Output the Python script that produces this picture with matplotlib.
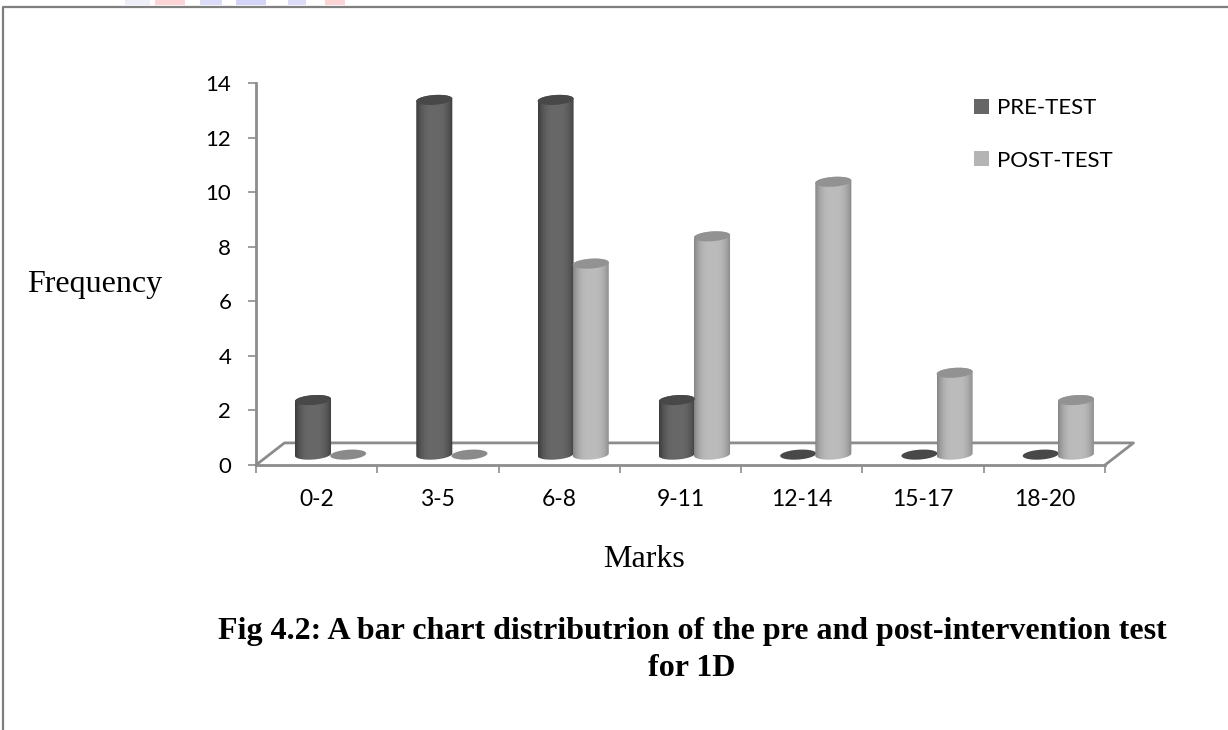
import matplotlib
matplotlib.use('Agg')
import matplotlib.pyplot as plt
import numpy as np
from matplotlib.patches import PathPatch, Rectangle
from matplotlib.path import Path

marks = ['0-2', '3-5', '6-8', '9-11', '12-14', '15-17', '18-20']
pre_test = [2, 13, 13, 2, 0, 0, 0]
post_test = [0, 0, 7, 8, 10, 3, 2]

W, H = 1228, 730
AXIS = '#8c8c8c'
BAR_W = 0.297
FLOOR_DX = 0.235
FLOOR_DY = 0.81
BASE = 0.38
CAP = 0.36
TILT = 0.3


def ellipse_points(x, y, start, end):
    # tilted arc, the box is seen slightly from the side
    a = np.linspace(start, end, 40)
    ex = x + BAR_W / 2 * np.cos(a)
    ey = y + CAP / 2 * np.sin(a) + TILT * (ex - x)
    return np.column_stack([ex, ey])


def cylinder(ax, x, value, dark, mid, cap):
    bottom = BASE
    top = BASE + value
    if value == 0:
        ax.add_patch(PathPatch(Path(ellipse_points(x, bottom, 0, 2 * np.pi)), fc=cap, ec='none', zorder=3))
        return
    outline = np.vstack([ellipse_points(x, top, np.pi, 0), ellipse_points(x, bottom, 0, -np.pi)])
    clip = PathPatch(Path(outline), fc='none', ec='none', zorder=3)
    ax.add_patch(clip)
    # darker at both edges of the cylinder
    t = np.abs(np.linspace(-1, 1, 40)) ** 3
    c0 = np.array(matplotlib.colors.to_rgb(mid))
    c1 = np.array(matplotlib.colors.to_rgb(dark))
    grad = (c0[None, :] * (1 - t[:, None]) + c1[None, :] * t[:, None])[None, :, :]
    im = ax.imshow(grad, extent=(x - BAR_W / 2, x + BAR_W / 2, bottom - 0.5, top + 0.5), aspect='auto',
                   interpolation='bilinear', zorder=3)
    im.set_clip_path(clip)
    ax.add_patch(PathPatch(Path(ellipse_points(x, top, 0, 2 * np.pi)), fc=cap, ec='none', zorder=3.5))


fig = plt.figure(figsize=(W / 100, H / 100), dpi=100)
plt.rcParams['font.family'] = ['Lato', 'DejaVu Sans']

# page border of the scanned figure, with the watermark bleeding in at the top
fig.add_artist(plt.Line2D([3 / W, 3 / W, 1], [0, 1 - 7 / H, 1 - 7 / H], color='#7f7f7f', lw=1.6))
for x0, x1, col in [(125, 150, '#eeeef8'), (155, 185, '#fbd5d5'), (200, 222, '#dcdcf8'),
                    (236, 266, '#d4d4f8'), (288, 306, '#dcdcf8'), (325, 345, '#fbd5d5')]:
    fig.add_artist(Rectangle((x0 / W, 1 - 5 / H), (x1 - x0) / W, 5 / H, fc=col, ec='none',
                             transform=fig.transFigure))

ax = fig.add_axes([256 / W, 1 - 465 / H, (1105 - 256) / W, (465 - 83) / H])

xs = np.arange(len(marks))

# floor of the 3d box
ax.plot([0, FLOOR_DX, 7 + FLOOR_DX, 7], [0, FLOOR_DY, FLOOR_DY, 0], color=AXIS, lw=2,
        clip_on=False, zorder=1)

for i in range(len(marks)):
    cylinder(ax, xs[i] + 0.47, pre_test[i], '#3c3c3c', '#686868', '#484848')
    cylinder(ax, xs[i] + 0.76, post_test[i], '#868686', '#bcbcbc', '#929292' if post_test[i] else '#8a8a8a')

ax.set_xlim(0, 7)
ax.set_ylim(0, 14)
ax.spines['top'].set_visible(False)
ax.spines['right'].set_visible(False)
for side in ('left', 'bottom'):
    ax.spines[side].set_color(AXIS)
    ax.spines[side].set_linewidth(2)
ax.set_yticks(range(0, 15, 2))
ax.set_xticks(range(8))
ax.set_xticklabels([])
ax.set_xticks(xs + 0.5, marks, minor=True)
ax.tick_params(axis='x', which='major', length=5.8, width=1.2, color=AXIS)
ax.tick_params(axis='x', which='minor', length=0, labelsize=16.5, pad=17)
ax.tick_params(axis='y', length=5.8, width=1.2, color=AXIS, labelsize=16, pad=12)

handles = [Rectangle((0, 0), 1, 1, fc='#666666'), Rectangle((0, 0), 1, 1, fc='#b4b4b4')]
ax.legend(handles, ['PRE-TEST', 'POST-TEST'], loc='upper left', bbox_to_anchor=(718 / 849, 0.96),
          frameon=False, fontsize=16, handlelength=0.68, handleheight=0.68, handletextpad=0.36,
          labelspacing=1.45, borderpad=0, borderaxespad=0)

serif = ['Liberation Serif', 'DejaVu Serif']
fig.text(94.5 / W, 1 - 292 / H, 'Frequency', family=serif, fontsize=23, ha='center', va='baseline')
fig.text(644 / W, 1 - 567 / H, 'Marks', family=serif, fontsize=23, ha='center', va='baseline')
fig.text(692 / W, 1 - 639 / H, 'Fig 4.2: A bar chart distributrion of the pre and post-intervention test',
         family=serif, fontsize=23, fontweight='bold', ha='center', va='baseline')
fig.text(692 / W, 1 - 676 / H, 'for 1D', family=serif, fontsize=23, fontweight='bold', ha='center', va='baseline')

fig.savefig('out.png', dpi=100)
